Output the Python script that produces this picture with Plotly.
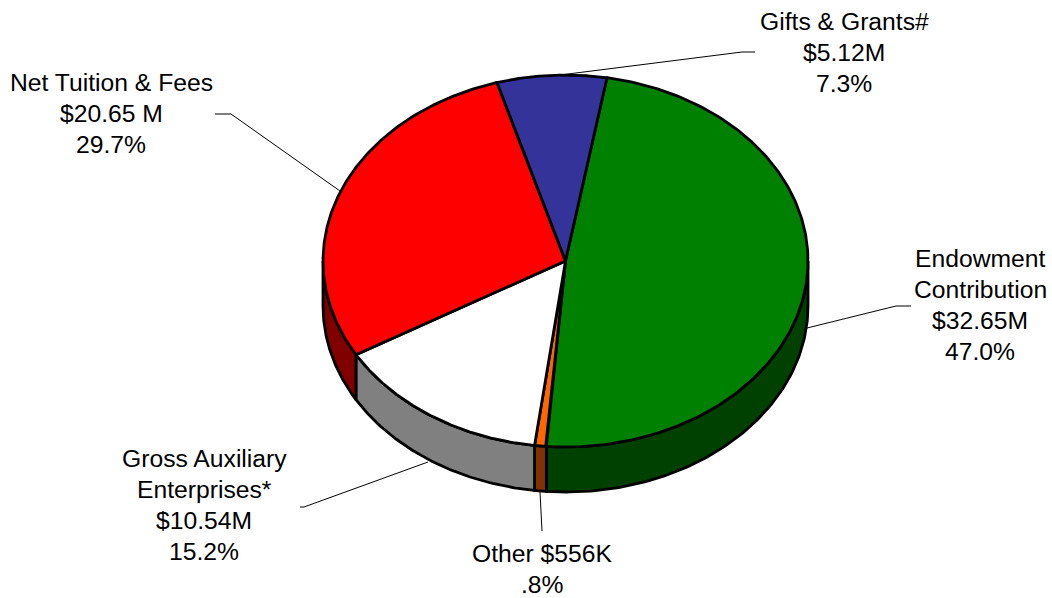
import numpy as np
import plotly.graph_objects as go

# Funding sources, clockwise from the top of the pie ($M)
sources = ["Endowment Contribution", "Other", "Gross Auxiliary Enterprises", "Net Tuition & Fees", "Gifts & Grants"]
amounts = [32.65, 0.556, 10.54, 20.65, 5.12]
top_colors = ["#008000", "#FF6600", "#FFFFFF", "#FF0000", "#333399"]
side_colors = ["#004000", "#803300", "#808080", "#800000", "#1A1A4D"]

label_lines = [
    ["Endowment", "Contribution", "$32.65M", "47.0%"],
    ["Other $556K", ".8%"],
    ["Gross Auxiliary", "Enterprises*", "$10.54M", "15.2%"],
    ["Net Tuition & Fees", "$20.65 M", "29.7%"],
    ["Gifts & Grants#", "$5.12M", "7.3%"],
]
label_x = [980, 542, 204, 111, 844]
label_first_y = [258, 553, 458, 82, 21]
LINE_STEP = 31.2

# Leader polylines from slice edge to label
leader_x = [[807, 896, 911], [540, 542], [428, 304, 300], [340, 231, 215], [560, 742, 755]]
leader_y = [[328, 306, 306], [492, 531], [462, 507, 507], [191, 114, 114], [75, 52, 52]]

# Tilted-pie projection
CX, CY = 565.5, 261.0
RX, RY = 242.5, 186.0
DEPTH = 45.0
OUTLINE = 2.8


def view_angle(deg):
    """Pie angle to on-screen parametric angle, with the camera's slight skew."""
    t = np.radians(deg)
    return deg + 12.5 - 2.65 * np.cos(t) + 0.885 * np.sin(t) - 0.46 * np.sin(2 * t)


def rim(deg, drop=0.0):
    t = np.radians(deg)
    return CX + RX * np.sin(t), CY - RY * np.cos(t) + drop


shares = np.array(amounts) / sum(amounts) * 360.0
edges = np.concatenate([[0.0], np.cumsum(shares)])
starts = view_angle(edges[:-1])
ends = view_angle(edges[1:])

fig = go.Figure()


def add_polygon(x, y, color):
    fig.add_trace(go.Scatter(
        x=x, y=y, mode="lines", fill="toself", fillcolor=color,
        line=dict(color="black", width=OUTLINE), hoverinfo="skip", showlegend=False,
    ))


# Visible side wall: only the front half of the cylinder (90° to 270°)
for a, b, color in zip(starts, ends, side_colors):
    lo, hi = max(a, 90.0), min(b, 270.0)
    if hi <= lo:
        continue
    arc = np.linspace(lo, hi, 120)
    ux, uy = rim(arc)
    lx, ly = rim(arc[::-1], DEPTH)
    add_polygon(np.r_[ux, lx, ux[0]], np.r_[uy, ly, uy[0]], color)

# Top face
for a, b, color in zip(starts, ends, top_colors):
    arc = np.linspace(a, b, 240)
    ux, uy = rim(arc)
    add_polygon(np.r_[CX, ux, CX], np.r_[CY, uy, CY], color)

for lx, ly in zip(leader_x, leader_y):
    fig.add_trace(go.Scatter(
        x=lx, y=ly, mode="lines", line=dict(color="black", width=1),
        hoverinfo="skip", showlegend=False,
    ))

for lines, x, first_y in zip(label_lines, label_x, label_first_y):
    for i, text in enumerate(lines):
        fig.add_annotation(
            x=x, y=first_y + i * LINE_STEP, xref="x", yref="y", text=text, showarrow=False,
            xanchor="center", yanchor="middle", align="center",
            font=dict(family="Liberation Sans, Arial, sans-serif", size=24.7, color="black"),
        )

hidden = dict(visible=False, fixedrange=True)
fig.update_layout(
    width=1052, height=598,
    margin=dict(l=0, r=0, t=0, b=0),
    paper_bgcolor="white", plot_bgcolor="white",
    xaxis=dict(range=[0, 1052], **hidden),
    yaxis=dict(range=[598, 0], **hidden),
    showlegend=False,
)

fig.write_html("out.html")
